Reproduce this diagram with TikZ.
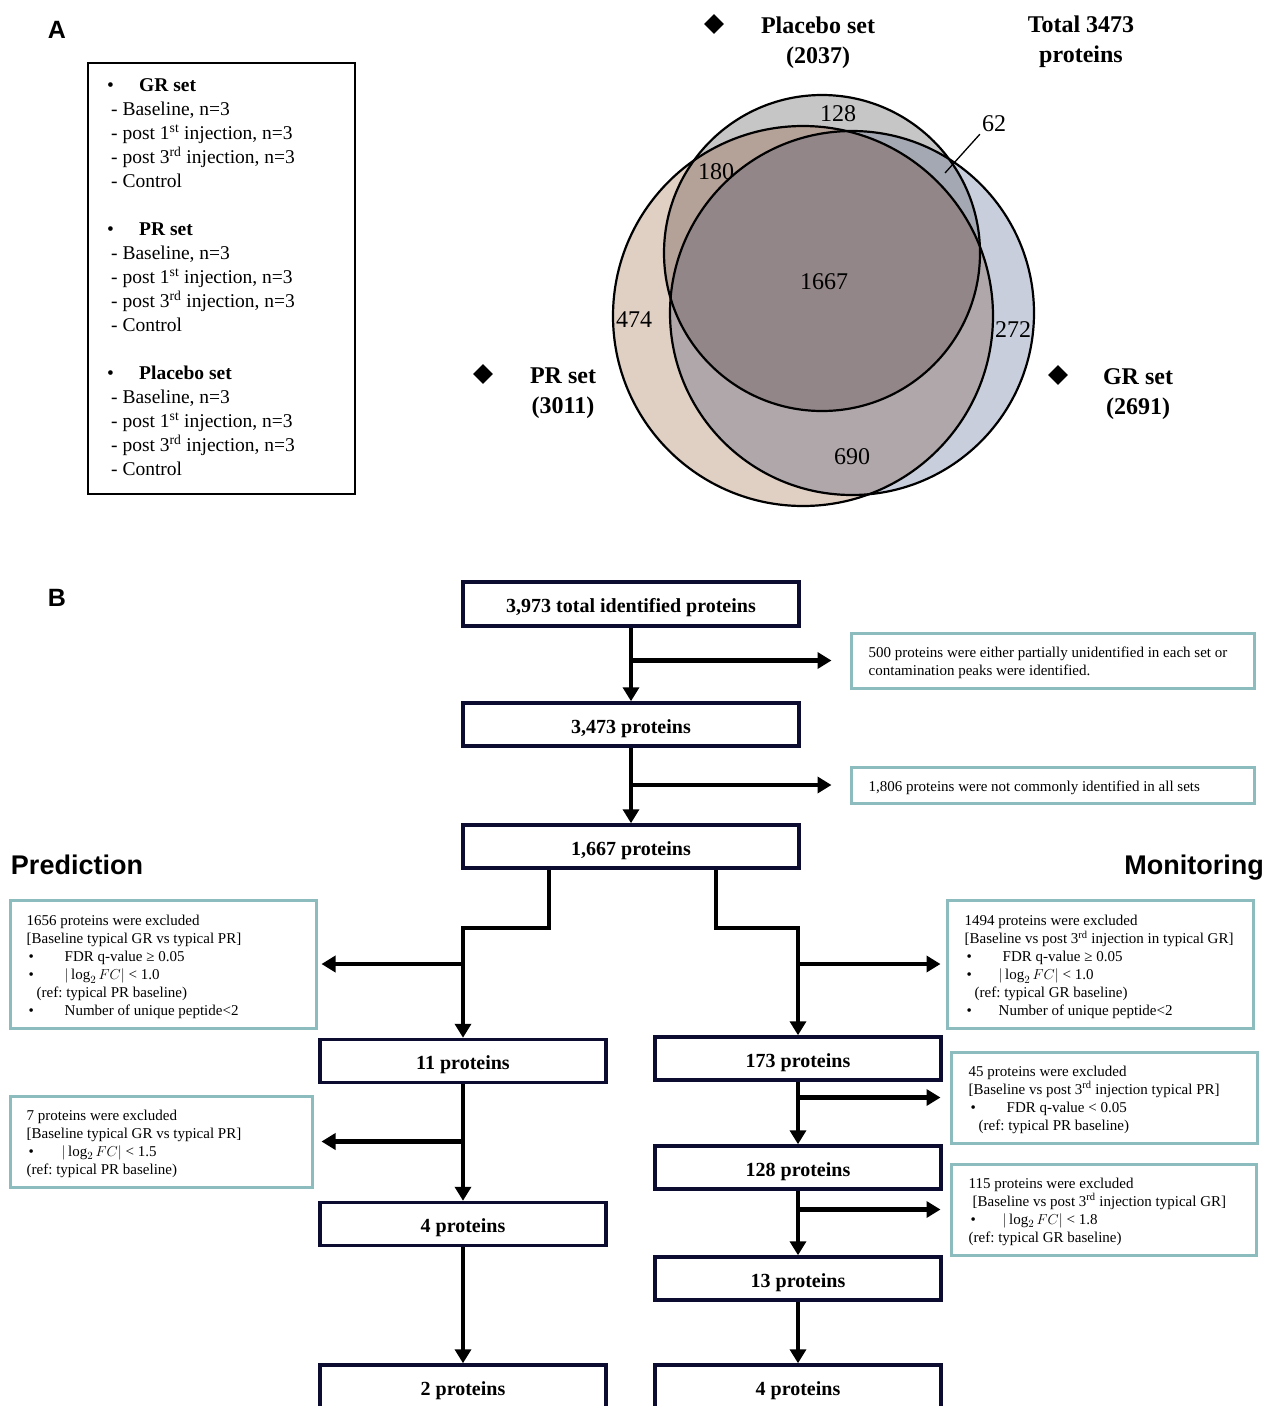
\documentclass[tikz,border=0pt]{standalone}
\usepackage{fontspec}
\setmainfont{Liberation Serif}
\newfontfamily\headsans{Liberation Sans}
\usetikzlibrary{arrows.meta,shapes.geometric}
\definecolor{navy}{RGB}{12,12,48}
\definecolor{tealb}{RGB}{140,188,190}
\definecolor{prc}{RGB}{224,207,195}
\definecolor{plc}{RGB}{198,198,198}
\definecolor{grc}{RGB}{200,206,219}
\definecolor{prpl}{RGB}{180,161,151}
\definecolor{prgr}{RGB}{176,167,170}
\definecolor{plgr}{RGB}{164,168,178}
\definecolor{allc}{RGB}{146,134,136}
\newcommand\bul{\makebox[38pt][l]{\hspace{2pt}•}}
\newcommand\lgfc{$|\log_2 FC|$}
\frenchspacing
\begin{document}
\frenchspacing
\begin{tikzpicture}[x=1pt,y=-1pt,
  flow/.style={draw=navy, line width=3.5pt, fill=white, minimum width=286pt, minimum height=43pt, inner sep=0pt, text height=17pt, text depth=0pt, font=\fontsize{20}{24}\selectfont\bfseries},
  note/.style={draw=tealb, line width=3pt, fill=white, inner sep=0pt},
  notetext/.style={anchor=west, align=left, inner sep=0pt, font=\fontsize{15}{18}\selectfont},
  arr/.style={line width=4.5pt, -{Triangle[length=14pt,width=16pt]}},
  vnum/.style={font=\fontsize{24}{28}\selectfont, inner sep=2pt},
  vhead/.style={font=\fontsize{24}{30}\selectfont\bfseries, align=center},
  dia/.style={diamond, fill=black, minimum size=20pt, inner sep=0pt},
  panel/.style={font=\headsans\fontsize{25}{30}\selectfont\bfseries},
  side/.style={anchor=base, font=\headsans\fontsize{27}{32}\selectfont\bfseries}
]
\useasboundingbox (0,0) rectangle (1266,1406);
\clip (0,0) rectangle (1266,1406);
\fill[white] (0,0) rectangle (1266,1406);

% ---------- Panel A ----------
\node[panel] (A) at (57,30) {A};
\node[draw, line width=2pt, minimum width=267pt, minimum height=431pt, inner sep=0pt] (setbox) at (221.5,278.5) {};
\node[anchor=west, align=left, inner sep=0pt, font=\fontsize{19.5}{24}\selectfont] (settext) at ([xshift=20pt,yshift=1pt]setbox.west) {%
\makebox[32pt][l]{•}\textbf{GR set}\\
\hspace{4pt}- Baseline, n=3\\
\hspace{4pt}- post 1\textsuperscript{st} injection, n=3\\
\hspace{4pt}- post 3\textsuperscript{rd} injection, n=3\\
\hspace{4pt}- Control\\[24pt]
\makebox[32pt][l]{•}\textbf{PR set}\\
\hspace{4pt}- Baseline, n=3\\
\hspace{4pt}- post 1\textsuperscript{st} injection, n=3\\
\hspace{4pt}- post 3\textsuperscript{rd} injection, n=3\\
\hspace{4pt}- Control\\[24pt]
\makebox[32pt][l]{•}\textbf{Placebo set}\\
\hspace{4pt}- Baseline, n=3\\
\hspace{4pt}- post 1\textsuperscript{st} injection, n=3\\
\hspace{4pt}- post 3\textsuperscript{rd} injection, n=3\\
\hspace{4pt}- Control};

% Venn
\def\PRc{(803,316) circle[radius=190]}
\def\PLc{(822,253) circle[radius=158]}
\def\GRc{(852,313) circle[radius=182]}
\fill[prc] \PRc;
\fill[grc] \GRc;
\fill[plc] \PLc;
\begin{scope}\clip \PRc; \fill[prpl] \PLc; \fill[prgr] \GRc; \end{scope}
\begin{scope}\clip \PLc; \fill[plgr] \GRc; \end{scope}
\begin{scope}\clip \PRc; \clip \PLc; \fill[allc] \GRc; \end{scope}
\draw[line width=2.2pt] \PRc;
\draw[line width=2.2pt] \GRc;
\draw[line width=2.2pt] \PLc;

\node[vnum] (n128) at (838,114) {128};
\node[vnum] (n180) at (716,172) {180};
\node[vnum] (n1667) at (824,282) {1667};
\node[vnum] (n474) at (634,320) {474};
\node[vnum] (n272) at (1013,330) {272};
\node[vnum] (n690) at (852,457) {690};
\node[vnum] (n62) at (994,124) {62};
\coordinate (c62) at (945,173);
\draw[line width=1.3pt] (n62.south west) -- (c62);

\node[dia] (dpl) at (714,24) {};
\node[vhead] (hpl) at (818,43) {Placebo set\\(2037)};
\node[vhead] (htot) at (1081,42) {Total 3473\\proteins};
\node[dia] (dpr) at (483,374) {};
\node[vhead] (hpr) at (563,393) {PR set\\(3011)};
\node[dia] (dgr) at (1058,375) {};
\node[vhead] (hgr) at (1138,394) {GR set\\(2691)};

% ---------- Panel B ----------
\node[panel] (B) at (57,598) {B};
\node[side] (pred) at (77,874) {Prediction};
\node[side] (mon) at (1194,874) {Monitoring};

\node[flow, minimum width=336pt, minimum height=44pt] (b1) at (631,604) {3,973 total identified proteins};
\node[flow, minimum width=336pt] (b2) at (631,724.5) {3,473 proteins};
\node[flow, minimum width=336pt] (b3) at (631,846.5) {1,667 proteins};

\node[note, minimum width=403pt, minimum height=55pt] (t1) at (1052.5,660.5) {};
\node[notetext] (t1x) at ([xshift=19pt,yshift=-2pt]t1.west) {500 proteins were either partially unidentified in each set or\\contamination peaks were identified.};
\node[note, minimum width=403pt, minimum height=36pt] (t2) at (1052.5,785) {};
\node[notetext] (t2x) at ([xshift=19pt,yshift=-3pt]t2.west) {1,806 proteins were not commonly identified in all sets};

\node[flow] (p11) at (463,1061) {11 proteins};
\node[flow] (p4) at (463,1224) {4 proteins};
\node[flow, minimum height=44pt] (p2) at (463,1387) {2 proteins};

\node[flow] (m173) at (798,1058.5) {173 proteins};
\node[flow] (m128) at (798,1167.5) {128 proteins};
\node[flow] (m13) at (798,1278.5) {13 proteins};
\node[flow, minimum height=44pt] (m4) at (798,1387) {4 proteins};

\node[note, minimum width=306pt, minimum height=128pt] (l1) at (163,964) {};
\node[notetext] (l1x) at ([xshift=18pt,yshift=-3pt]l1.west) {%
1656 proteins were excluded\\
{[}Baseline typical GR vs typical PR]\\
\bul FDR q-value ≥ 0.05\\
\bul \lgfc{} < 1.0\\
\hspace{10pt}(ref: typical PR baseline)\\
\bul Number of unique peptide<2};
\node[note, minimum width=302pt, minimum height=91pt] (l2) at (161,1141.5) {};
\node[notetext] (l2x) at ([xshift=18pt,yshift=-2pt]l2.west) {%
7 proteins were excluded\\
{[}Baseline typical GR vs typical PR]\\
\makebox[35pt][l]{\hspace{2pt}•}\lgfc{} < 1.5\\
(ref: typical PR baseline)};
\node[note, minimum width=306pt, minimum height=128pt] (r1) at (1100,964) {};
\node[notetext] (r1x) at ([xshift=19pt,yshift=-3pt]r1.west) {%
1494 proteins were excluded\\
{[}Baseline vs post 3\textsuperscript{rd} injection in typical GR]\\
\bul FDR q-value ≥ 0.05\\
\makebox[34pt][l]{\hspace{2pt}•}\lgfc{} < 1.0\\
\hspace{10pt}(ref: typical GR baseline)\\
\makebox[34pt][l]{\hspace{2pt}•}Number of unique peptide<2};
\node[note, minimum width=306pt, minimum height=91pt] (r2) at (1104,1097.5) {};
\node[notetext] (r2x) at ([xshift=19pt,yshift=-2pt]r2.west) {%
45 proteins were excluded\\
{[}Baseline vs post 3\textsuperscript{rd} injection typical PR]\\
\bul FDR q-value < 0.05\\
\hspace{10pt}(ref: typical PR baseline)};
\node[note, minimum width=305pt, minimum height=91pt] (r3) at (1103.5,1209.5) {};
\node[notetext] (r3x) at ([xshift=19pt,yshift=-2pt]r3.west) {%
115 proteins were excluded\\
\hspace{4pt}[Baseline vs post 3\textsuperscript{rd} injection typical GR]\\
\makebox[34pt][l]{\hspace{2pt}•}\lgfc{} < 1.8\\
(ref: typical GR baseline)};

% connectors
\draw[arr] (b1.south) -- (b2.north);
\draw[arr, shorten >=18pt] (b1.south |- t1.west) -- (t1.west);
\draw[arr] (b2.south) -- (b3.north);
\draw[arr, shorten >=18pt] (b2.south |- t2.west) -- (t2.west);

\draw[arr] ([xshift=-82pt]b3.south) -- ++(0,58) -| (p11.north);
\draw[arr, shorten >=4pt] (p11.north |- l1.east) -- (l1.east);
\draw[arr] ([xshift=85pt]b3.south) -- ++(0,58) -| (m173.north);
\draw[arr, shorten >=5pt] (m173.north |- r1.west) -- (r1.west);

\draw[arr] (p11.south) -- (p4.north);
\draw[arr, shorten >=8pt] (p11.south |- l2.east) -- (l2.east);
\draw[arr] (p4.south) -- (p2.north);

\draw[arr] (m173.south) -- (m128.north);
\draw[arr, shorten >=9pt] (m173.south |- r2.west) -- (r2.west);
\draw[arr] (m128.south) -- (m13.north);
\draw[arr, shorten >=9pt] (m128.south |- r3.west) -- (r3.west);
\draw[arr] (m13.south) -- (m4.north);
\end{tikzpicture}
\end{document}
